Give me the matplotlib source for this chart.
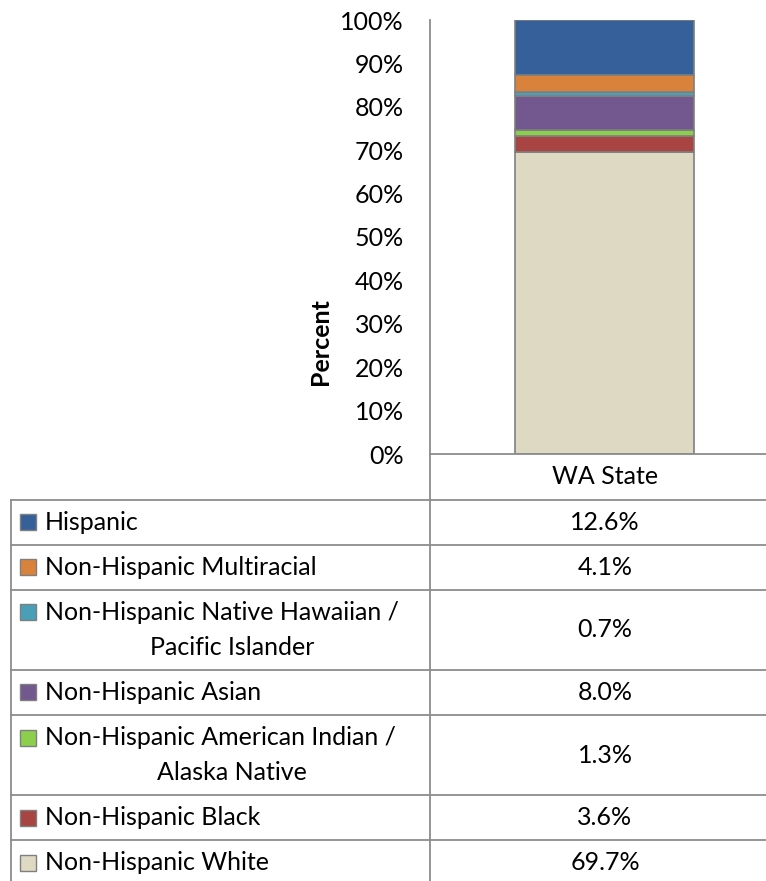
import matplotlib
matplotlib.use("Agg")
import matplotlib.pyplot as plt
from matplotlib.patches import Rectangle
from matplotlib.lines import Line2D

plt.rcParams['font.family'] = ['Lato', 'DejaVu Sans']

# ---- data ----
category = "WA State"
series_names = [
    "Non-Hispanic White",
    "Non-Hispanic Black",
    "Non-Hispanic American Indian /\nAlaska Native",
    "Non-Hispanic Asian",
    "Non-Hispanic Native Hawaiian /\nPacific Islander",
    "Non-Hispanic Multiracial",
    "Hispanic",
]
series_values = [69.7, 3.6, 1.3, 8.0, 0.7, 4.1, 12.6]
series_colors = ["#DDD9C3", "#A84542", "#8CCF4C", "#72588E", "#4A9FB8", "#D9823C", "#35609A"]
y_ticks = [0, 10, 20, 30, 40, 50, 60, 70, 80, 90, 100]
y_tick_labels = [f"{t}%" for t in y_ticks]
y_label = "Percent"

W, H = 766, 881
fig = plt.figure(figsize=(W / 100, H / 100), dpi=100)
FS = 18
grid_c = "#8C8C8C"

# ---- chart axes (pixel layout) ----
ax_l, ax_r, ax_t, ax_b = 430, 766, 20, 454
ax = fig.add_axes([ax_l / W, (H - ax_b) / H, (ax_r - ax_l) / W, (ax_b - ax_t) / H])
ax.set_xlim(0, 1)
ax.set_ylim(0, 100)
bar_x = (604.5 - ax_l) / (ax_r - ax_l)
bar_w = 179 / (ax_r - ax_l)
bottom = 0
for v, c in zip(series_values, series_colors):
    ax.bar(bar_x, v, width=bar_w, bottom=bottom, color=c, edgecolor="#7F7F7F", linewidth=1.2)
    bottom += v
ax.set_yticks(y_ticks)
ax.set_yticklabels(y_tick_labels, fontsize=FS)
ax.tick_params(axis='y', length=0, pad=19)
ax.set_xticks([])
for s in ["top", "right"]:
    ax.spines[s].set_visible(False)
ax.spines["left"].set_color(grid_c)
ax.spines["bottom"].set_color(grid_c)
ax.spines["left"].set_linewidth(1.3)
ax.spines["bottom"].set_linewidth(1.3)
fig.text(320 / W, 1 - 342 / H, y_label, rotation=90, ha="center", va="center",
         fontsize=FS, fontweight="bold")

# ---- data table (pixel coordinates) ----
tab = fig.add_axes([0, 0, 1, 1])
tab.set_xlim(0, W)
tab.set_ylim(H, 0)
tab.axis("off")

col_div = 430
tab_left = 11
val_x = 605
tab.add_line(Line2D([col_div, col_div], [ax_b, H], color=grid_c, lw=1.3))
tab.text(val_x, 477, category, ha="center", va="center", fontsize=FS)

y = 500
single_h, double_h = 44.8, 80.5
rows = list(zip(series_names, series_values, series_colors))[::-1]
tab.add_line(Line2D([tab_left, W], [y, y], color=grid_c, lw=1.3))
for name, v, c in rows:
    lines = name.split("\n")
    h = single_h if len(lines) == 1 else double_h
    cy = y + h / 2
    if len(lines) == 1:
        tab.add_patch(Rectangle((20, cy - 8), 16, 16, facecolor=c, edgecolor="#7F7F7F", lw=1.0))
        tab.text(45, cy, lines[0], ha="left", va="center", fontsize=FS)
    else:
        l1y, l2y = cy - 17.5, cy + 17.5
        tab.add_patch(Rectangle((20, l1y - 8), 16, 16, facecolor=c, edgecolor="#7F7F7F", lw=1.0))
        tab.text(45, l1y, lines[0], ha="left", va="center", fontsize=FS)
        tab.text(232, l2y, lines[1], ha="center", va="center", fontsize=FS)
    tab.text(val_x, cy, f"{v:.1f}%", ha="center", va="center", fontsize=FS)
    y += h
    tab.add_line(Line2D([tab_left, W], [y, y], color=grid_c, lw=1.3))
tab.add_line(Line2D([tab_left, tab_left], [500, H], color=grid_c, lw=1.3))

fig.savefig("out.png", dpi=100)
